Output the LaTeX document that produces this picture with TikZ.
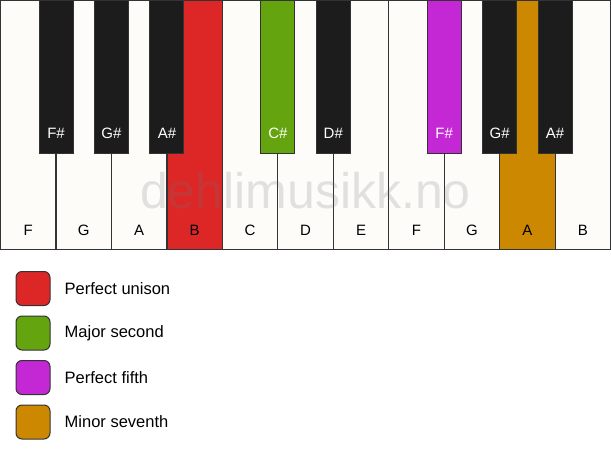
\documentclass[tikz,border=0pt]{standalone}
\usepackage{fontspec}
\setmainfont{Liberation Sans}
\usetikzlibrary{positioning}
\definecolor{keywhite}{HTML}{FDFCF9}
\definecolor{keyblack}{HTML}{1C1C1C}
\definecolor{keyedge}{HTML}{333333}
\definecolor{unisoncolor}{HTML}{DD2727}
\definecolor{secondcolor}{HTML}{63A40F}
\definecolor{fifthcolor}{HTML}{C328D4}
\definecolor{seventhcolor}{HTML}{CC8800}

\begin{document}
\begin{tikzpicture}[x=1pt,y=-1pt,
    whitekey/.style={draw=keyedge,line width=1.2pt,minimum width=55.45pt,minimum height=249pt,inner sep=0pt,outer sep=0pt,anchor=north west},
    blackkey/.style={draw=keyedge,line width=1pt,minimum width=34pt,minimum height=153pt,inner sep=0pt,outer sep=0pt,anchor=north},
    keylabel/.style={inner sep=0pt,font=\fontsize{15}{15}\selectfont},
    legendbox/.style={draw=keyedge,line width=1pt,rounded corners=6pt,minimum size=34pt,inner sep=0pt},
    legendtext/.style={inner sep=0pt,anchor=west,font=\fontsize{16.5}{16.5}\selectfont}]
  \useasboundingbox (0,0) rectangle (611,461);
  % white keys
  \foreach \n/\c [count=\i from 0] in {F/keywhite,G/keywhite,A/keywhite,B/unisoncolor,C/keywhite,D/keywhite,E/keywhite,F/keywhite,G/keywhite,A/seventhcolor,B/keywhite}
  {
    \node [whitekey,fill=\c] (w\i) at (0.6+\i*55.45,0.6) {};
    \node [keylabel] (wl\i) at ([yshift=19pt]w\i.south) {\n};
  }
  % black keys
  \foreach \b/\n/\c in {1/F\#/keyblack,2/G\#/keyblack,3/A\#/keyblack,5/C\#/secondcolor,6/D\#/keyblack,8/F\#/fifthcolor,9/G\#/keyblack,10/A\#/keyblack}
  {
    \node [blackkey,fill=\c] (b\b) at (0.6+\b*55.45,0.6) {};
    \node [keylabel,text=white] (bl\b) at ([yshift=20pt]b\b.south) {\n};
  }
  \node [anchor=base,text=black!55,opacity=0.2,font=\fontsize{50}{50}\selectfont] (mark) at (305.5,208) {dehlimusikk.no};
  % legend
  \foreach \c/\t [count=\i from 0] in {unisoncolor/Perfect unison,secondcolor/Major second,fifthcolor/Perfect fifth,seventhcolor/Minor seventh}
  {
    \node [legendbox,fill=\c] (sq\i) at (33,288.5+\i*44.5) {};
    \node [legendtext,right=14pt of sq\i] (lt\i) {\t};
  }
\end{tikzpicture}
\end{document}
